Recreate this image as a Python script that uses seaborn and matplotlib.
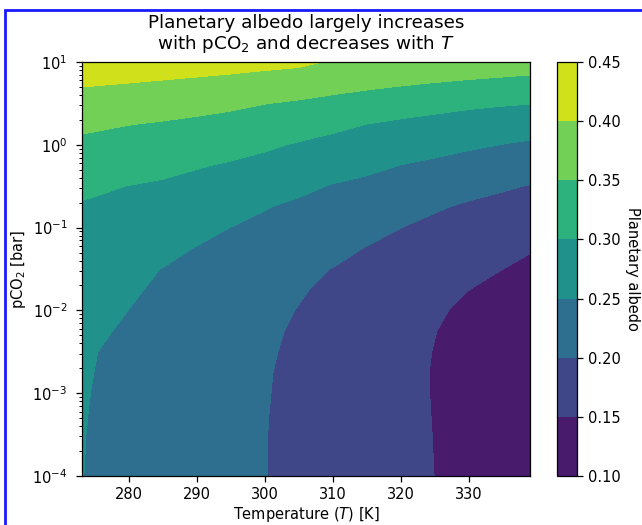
import numpy as np
import matplotlib
matplotlib.use("Agg")
import matplotlib.pyplot as plt
from matplotlib.patches import Rectangle
from matplotlib.ticker import FixedLocator, FuncFormatter
import seaborn as sns

temperature = [273.15, 275, 277.5, 280, 285, 290, 295, 300, 302.5, 305, 310, 315, 320, 325, 330, 335, 339]
log_pco2 = [-4, -3.75, -3.5, -3.25, -3, -2.75, -2.5, -2.25, -2, -1.75, -1.5,
            -1.25, -1, -0.75, -0.5, -0.25, 0, 0.25, 0.5, 0.75, 1]

albedo = [
    [0.2505, 0.2471, 0.2425, 0.2378, 0.2285, 0.2192, 0.2099, 0.2007, 0.1956, 0.1905, 0.1804, 0.1702, 0.1600, 0.1498, 0.1396, 0.1295, 0.1213],
    [0.2508, 0.2474, 0.2427, 0.2381, 0.2288, 0.2195, 0.2101, 0.2008, 0.1958, 0.1907, 0.1804, 0.1701, 0.1598, 0.1495, 0.1392, 0.1289, 0.1207],
    [0.2511, 0.2476, 0.2430, 0.2383, 0.2290, 0.2196, 0.2103, 0.2009, 0.1959, 0.1907, 0.1803, 0.1699, 0.1596, 0.1492, 0.1388, 0.1285, 0.1202],
    [0.2517, 0.2482, 0.2435, 0.2388, 0.2294, 0.2200, 0.2107, 0.2013, 0.1962, 0.1909, 0.1804, 0.1698, 0.1593, 0.1488, 0.1383, 0.1277, 0.1193],
    [0.2523, 0.2489, 0.2442, 0.2395, 0.2301, 0.2207, 0.2113, 0.2019, 0.1968, 0.1914, 0.1807, 0.1699, 0.1591, 0.1484, 0.1376, 0.1268, 0.1182],
    [0.2533, 0.2498, 0.2450, 0.2403, 0.2309, 0.2214, 0.2120, 0.2025, 0.1974, 0.1920, 0.1810, 0.1701, 0.1591, 0.1482, 0.1373, 0.1263, 0.1176],
    [0.2544, 0.2509, 0.2462, 0.2415, 0.2321, 0.2226, 0.2132, 0.2038, 0.1989, 0.1934, 0.1823, 0.1712, 0.1601, 0.1490, 0.1379, 0.1269, 0.1180],
    [0.2588, 0.2551, 0.2502, 0.2452, 0.2354, 0.2255, 0.2156, 0.2058, 0.2008, 0.1954, 0.1842, 0.1730, 0.1619, 0.1507, 0.1395, 0.1284, 0.1194],
    [0.2638, 0.2600, 0.2549, 0.2498, 0.2396, 0.2294, 0.2192, 0.2090, 0.2040, 0.1988, 0.1877, 0.1766, 0.1655, 0.1545, 0.1434, 0.1323, 0.1235],
    [0.2687, 0.2649, 0.2597, 0.2546, 0.2443, 0.2340, 0.2238, 0.2135, 0.2084, 0.2032, 0.1927, 0.1821, 0.1715, 0.1609, 0.1502, 0.1396, 0.1311],
    [0.2729, 0.2692, 0.2642, 0.2592, 0.2492, 0.2392, 0.2292, 0.2192, 0.2142, 0.2092, 0.1992, 0.1894, 0.1796, 0.1698, 0.1599, 0.1501, 0.1423],
    [0.2807, 0.2776, 0.2735, 0.2693, 0.2605, 0.2486, 0.2395, 0.2299, 0.2252, 0.2206, 0.2113, 0.1985, 0.1899, 0.1806, 0.1716, 0.1631, 0.1527],
    [0.2885, 0.2861, 0.2827, 0.2793, 0.2720, 0.2614, 0.2497, 0.2406, 0.2362, 0.2320, 0.2235, 0.2123, 0.2003, 0.1914, 0.1833, 0.1762, 0.1679],
    [0.2963, 0.2945, 0.2920, 0.2894, 0.2834, 0.2749, 0.2650, 0.2522, 0.2471, 0.2434, 0.2356, 0.2268, 0.2166, 0.2038, 0.1950, 0.1893, 0.1832],
    [0.3083, 0.3058, 0.3023, 0.2994, 0.2949, 0.2884, 0.2804, 0.2699, 0.2638, 0.2581, 0.2478, 0.2414, 0.2329, 0.2230, 0.2123, 0.2041, 0.1984],
    [0.3242, 0.3221, 0.3190, 0.3163, 0.3101, 0.3028, 0.2959, 0.2876, 0.2824, 0.2773, 0.2668, 0.2585, 0.2492, 0.2421, 0.2339, 0.2266, 0.2206],
    [0.3402, 0.3385, 0.3358, 0.3335, 0.3282, 0.3219, 0.3150, 0.3066, 0.3013, 0.2965, 0.2873, 0.2792, 0.2707, 0.2636, 0.2562, 0.2491, 0.2436],
    [0.3588, 0.3569, 0.3537, 0.3511, 0.3464, 0.3411, 0.3355, 0.3286, 0.3246, 0.3201, 0.3105, 0.2999, 0.2925, 0.2866, 0.2808, 0.2758, 0.2713],
    [0.3818, 0.3803, 0.3779, 0.3757, 0.3708, 0.3648, 0.3586, 0.3509, 0.3479, 0.3448, 0.3381, 0.3303, 0.3219, 0.3146, 0.3081, 0.3037, 0.3010],
    [0.4048, 0.4037, 0.4020, 0.4004, 0.3966, 0.3924, 0.3877, 0.3818, 0.3789, 0.3759, 0.3666, 0.3607, 0.3553, 0.3497, 0.3444, 0.3400, 0.3367],
    [0.4278, 0.4271, 0.4261, 0.4250, 0.4225, 0.4200, 0.4169, 0.4127, 0.4108, 0.4087, 0.3958, 0.3912, 0.3887, 0.3847, 0.3807, 0.3763, 0.3724],
]

levels = [0.10, 0.15, 0.20, 0.25, 0.30, 0.35, 0.40, 0.45]
x_ticks = [280, 290, 300, 310, 320, 330]
y_decades = [-4, -3, -2, -1, 0, 1]

sns.set_style("ticks")
plt.rcParams["font.family"] = ["DejaVu Sans"]
plt.rcParams["text.color"] = "black"
plt.rcParams["axes.labelcolor"] = "black"

fig = plt.figure(figsize=(6.42, 5.25), dpi=100)
ax = fig.add_axes([82 / 642, 49 / 525, 448 / 642, 414 / 525])
cax = fig.add_axes([557 / 642, 49 / 525, 20 / 642, 414 / 525])

cmap = sns.color_palette("viridis", as_cmap=True)
cs = ax.contourf(temperature, log_pco2, albedo, levels=levels, cmap=cmap)

ax.set_xlim(temperature[0], temperature[-1])
ax.set_ylim(log_pco2[0], log_pco2[-1])
ax.set_xticks(x_ticks)
ax.yaxis.set_major_locator(FixedLocator(y_decades))
ax.yaxis.set_major_formatter(FuncFormatter(lambda v, _: r"$\mathdefault{10^{%d}}$" % round(v)))
minor = [d + np.log10(m) for d in y_decades[:-1] for m in range(2, 10)]
ax.yaxis.set_minor_locator(FixedLocator(minor))

for sp in ax.spines.values():
    sp.set_color("black")
    sp.set_linewidth(0.9)
ax.tick_params(which="both", colors="black", labelsize=10.5)
ax.tick_params(which="major", length=4.5, width=0.9)
ax.tick_params(axis="y", which="major", pad=6)
ax.tick_params(which="minor", length=2.2, width=0.7)

ax.set_xlabel("Temperature ($T$) [K]", fontsize=10.5, labelpad=2)
ax.set_ylabel("pCO$_2$ [bar]", fontsize=10.5, labelpad=3)
ax.set_title("Planetary albedo largely increases\nwith pCO$_2$ and decreases with $T$",
             fontsize=13.2, pad=9, linespacing=1.1)

cb = fig.colorbar(cs, cax=cax)
cb.set_ticks(levels)
cb.set_ticklabels(["%.2f" % v for v in levels])
cb.ax.tick_params(labelsize=10.5, colors="black", length=4.5, width=0.9)
cb.outline.set_edgecolor("black")
cb.outline.set_linewidth(0.9)
cb.set_label("Planetary albedo", rotation=270, labelpad=14, fontsize=10.5, color="black")

# blue frame around the figure (only its left and top edges fall inside the image)
fig.add_artist(Rectangle((5 / 642, -0.5), 2, 1.5 - 10 / 525, transform=fig.transFigure,
                         fill=False, edgecolor="#1a1aff", linewidth=2, clip_on=False))

fig.savefig("out.png", dpi=100, facecolor="white")
